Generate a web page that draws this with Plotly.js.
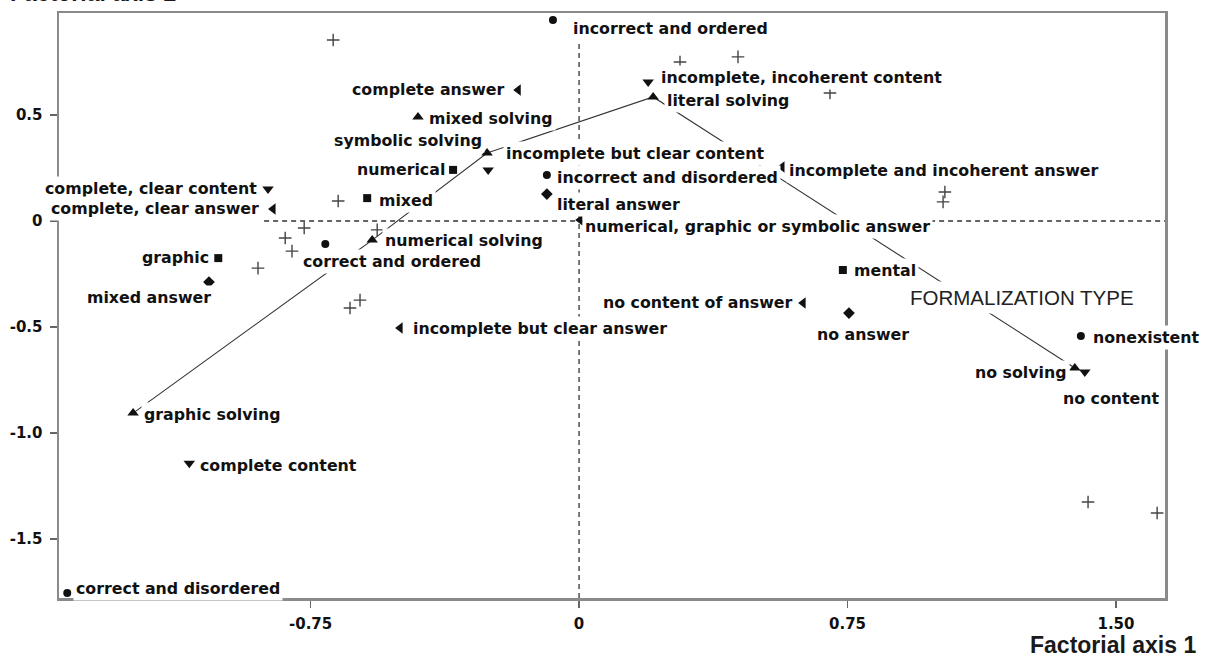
<!DOCTYPE html>
<html><head><meta charset="utf-8">
<script src="https://cdn.plot.ly/plotly-3.0.1.min.js"></script>
<style>html,body{margin:0;padding:0;background:#fff;} #chart{width:1215px;height:659px;}</style>
</head><body><div id="chart"></div>
<script>
// ---- data ----
// ordering of the solving (circles)
const orderLabels = ['incorrect and ordered','incorrect and disordered','correct and ordered','correct and disordered','nonexistent'];
const orderX = [-0.073, -0.090, -0.709, -1.430, 1.402];
const orderY = [0.948, 0.217, -0.108, -1.755, -0.542];
// formalization (squares)
const formLabels = ['numerical','mixed','graphic','mental'];
const formX = [-0.352, -0.592, -1.008, 0.737];
const formY = [0.241, 0.108, -0.175, -0.231];
// solving (up triangles)
const solvLabels = ['mixed solving','symbolic solving','literal solving','numerical solving','graphic solving','no solving'];
const solvX = [-0.450, -0.257, 0.207, -0.578, -1.246, 1.385];
const solvY = [0.490, 0.321, 0.585, -0.090, -0.906, -0.693];
// content (down triangles)
const contLabels = ['complete, clear content','incomplete, incoherent content','incomplete but clear content','complete content','no content'];
const contX = [-0.869, 0.193, -0.254, -1.089, 1.413];
const contY = [0.151, 0.656, 0.241, -1.142, -0.712];
// answer (left triangles)
const ansLabels = ['complete answer','complete, clear answer','incomplete but clear answer','no content of answer','incomplete and incoherent answer','numerical, graphic or symbolic answer'];
const ansX = [-0.170, -0.855, -0.500, 0.626, 0.567, 0.003];
const ansY = [0.618, 0.057, -0.505, -0.387, 0.255, 0.005];
// answer type (diamonds)
const ansTypeLabels = ['mixed answer','literal answer','no answer'];
const ansTypeX = [-1.034, -0.090, 0.754];
const ansTypeY = [-0.288, 0.127, -0.434];
// supplementary points (+)
const suppX = [-0.687, 0.282, 0.444, 0.701, 1.022, 1.017, -0.673, -0.768, -0.821, -0.802, -0.897, -0.564, -0.640, -0.612, 1.422, 1.615];
const suppY = [0.854, 0.750, 0.774, 0.604, 0.137, 0.090, 0.094, -0.033, -0.080, -0.142, -0.222, -0.042, -0.410, -0.373, -1.325, -1.377];
// trajectory of the formalization type
const trajectory = ['graphic solving','numerical solving','symbolic solving','literal solving','no solving'];
const trajectoryLabel = 'FORMALIZATION TYPE';
const trajectoryLabelX = 1.237, trajectoryLabelY = -0.363;
// axes
const xTickVals = [-0.75, 0, 0.75, 1.5];
const xTickText = ['-0.75', '0', '0.75', '1.50'];
const yTickVals = [0.5, 0, -0.5, -1.0, -1.5];
const yTickText = ['0.5', '0', '-0.5', '-1.0', '-1.5'];
const xTitle = 'Factorial axis 1';
const yTitle = 'Factorial axis 2';

// ---- label placement (style: anchor side, pixel nudge dx, dy(down)) ----
const place = {
  'incorrect and ordered': ['left', 19, 8],
  'incorrect and disordered': ['left', 9, 3],
  'correct and ordered': ['left', -23, 18],
  'correct and disordered': ['left', 8, -5],
  'nonexistent': ['left', 11, 2],
  'numerical': ['right', -7, 0],
  'mixed': ['left', 11, 2],
  'graphic': ['right', -8, -1],
  'mental': ['left', 10, 1],
  'mixed solving': ['left', 10, 1],
  'symbolic solving': ['right', -4, -12],
  'literal solving': ['left', 13, 4],
  'numerical solving': ['left', 12, 0],
  'graphic solving': ['left', 10, 1],
  'no solving': ['right', -7, 5],
  'complete, clear content': ['right', -10, 0],
  'incomplete, incoherent content': ['left', 12, -4],
  'incomplete but clear content': ['left', 17, -16],
  'complete content': ['left', 10, 2],
  'no content': ['left', -23, 27],
  'complete answer': ['right', -13, 0],
  'complete, clear answer': ['right', -13, 0],
  'incomplete but clear answer': ['left', 12, 0],
  'no content of answer': ['right', -10, -1],
  'incomplete and incoherent answer': ['left', 6, 4],
  'numerical, graphic or symbolic answer': ['left', 4, 7],
  'mixed answer': ['right', 3, 15],
  'literal answer': ['left', 9, 10],
  'no answer': ['center', 14, 21]
};

const XR = [-1.453, 1.637], YR = [-1.778, 0.981];
const ink = '#111';

// trajectory coordinates looked up from the solving arrays
const trajX = trajectory.map(n => solvX[solvLabels.indexOf(n)]);
const trajY = trajectory.map(n => solvY[solvLabels.indexOf(n)]);

function mk(x, y, symbol, size) {
  return {type: 'scatter', mode: 'markers', x: x, y: y, hoverinfo: 'skip',
    marker: {symbol: symbol, size: size, color: ink, line: {width: 0}}};
}
const traces = [
  {type: 'scatter', mode: 'lines', x: trajX, y: trajY, hoverinfo: 'skip',
   line: {color: '#333', width: 1.1}},
  {type: 'scatter', mode: 'markers', x: suppX, y: suppY, hoverinfo: 'skip',
   marker: {symbol: 'cross-thin', size: 9, line: {width: 1.4, color: '#444'}}},
  mk(orderX, orderY, 'circle', 8),
  mk(formX, formY, 'square', 8),
  mk(solvX, solvY, 'triangle-up', 10),
  mk(contX, contY, 'triangle-down', 10),
  mk(ansX, ansY, 'triangle-left', 10),
  mk(ansTypeX, ansTypeY, 'diamond', 9)
];

const PAD = 2;
const labelFont = {family: 'DejaVu Sans', size: 15.8, weight: 'bold', color: ink};
const annotations = [];
function addLabels(labels, xs, ys) {
  labels.forEach((t, i) => {
    const p = place[t] || ['left', 8, 0];
    const comp = p[0] === 'left' ? -PAD : (p[0] === 'right' ? PAD : 0);
    annotations.push({x: xs[i], y: ys[i], xref: 'x', yref: 'y', text: t, showarrow: false,
      xanchor: p[0], yanchor: 'middle', xshift: p[1] + comp, yshift: -p[2],
      font: labelFont, bgcolor: 'white', borderpad: PAD});
  });
}
addLabels(orderLabels, orderX, orderY);
addLabels(formLabels, formX, formY);
addLabels(solvLabels, solvX, solvY);
addLabels(contLabels, contX, contY);
addLabels(ansLabels, ansX, ansY);
addLabels(ansTypeLabels, ansTypeX, ansTypeY);
annotations.push({x: trajectoryLabelX, y: trajectoryLabelY, xref: 'x', yref: 'y', text: trajectoryLabel,
  showarrow: false, xanchor: 'center', yanchor: 'middle', bgcolor: 'white', borderpad: 4,
  font: {family: 'Liberation Sans', size: 20.5, color: '#222'}});
annotations.push({x: 1.0298, y: -0.080, xref: 'paper', yref: 'paper', text: xTitle, showarrow: false,
  xanchor: 'right', yanchor: 'middle', font: {family: 'Liberation Sans', size: 23, weight: 'bold', color: '#1a1a1a'}});
annotations.push({x: -0.0461, y: 1.0088, xref: 'paper', yref: 'paper', text: yTitle, showarrow: false,
  xanchor: 'left', yanchor: 'bottom', font: {family: 'Liberation Sans', size: 23, weight: 'bold', color: '#1a1a1a'}});

const shapes = [
  {type: 'line', xref: 'x', yref: 'paper', x0: 0, x1: 0, y0: 0, y1: 1, layer: 'below',
   line: {color: '#333', width: 1.3, dash: '5px,4px'}},
  {type: 'line', xref: 'x', yref: 'y', x0: -0.88, x1: XR[1], y0: 0, y1: 0, layer: 'below',
   line: {color: '#333', width: 1.3, dash: '5px,4px'}}
];

const axisCommon = {showgrid: false, zeroline: false, showline: true, mirror: true,
  linecolor: '#8a8a8a', linewidth: 2.5, ticks: 'outside', ticklen: 7, tickwidth: 1.5, tickcolor: '#666',
  tickfont: {family: 'DejaVu Sans', size: 15, weight: 'bold', color: ink}, tickmode: 'array'};

const layout = {
  width: 1215, height: 659, paper_bgcolor: 'white', plot_bgcolor: 'white',
  margin: {l: 59, r: 50, t: 13, b: 61}, showlegend: false,
  xaxis: Object.assign({}, axisCommon, {range: XR, tickvals: xTickVals, ticktext: xTickText, ticklabelstandoff: 3}),
  yaxis: Object.assign({}, axisCommon, {range: YR, tickvals: yTickVals, ticktext: yTickText, ticklabelstandoff: 4}),
  annotations: annotations, shapes: shapes
};
Plotly.newPlot('chart', traces, layout, {displayModeBar: false, staticPlot: true});
</script></body></html>
